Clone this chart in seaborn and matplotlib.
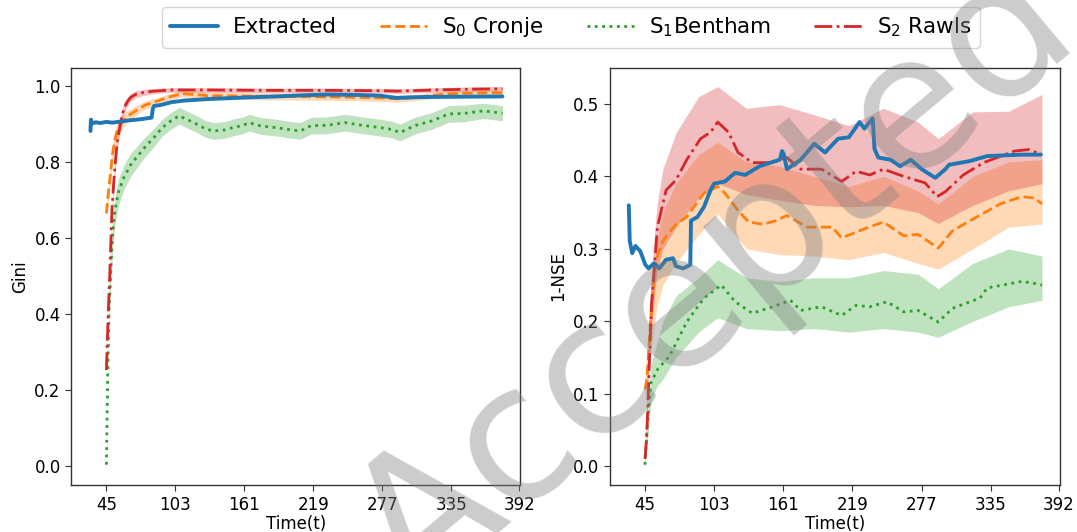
import numpy as np
import pandas as pd
import matplotlib
matplotlib.use("Agg")
import matplotlib.pyplot as plt
import seaborn as sns

# ---------------- data ----------------
xticks = [45, 103, 161, 219, 277, 335, 392]

# Left panel: Gini
ext_g_t = [31.6, 32.0, 33.0, 36, 40, 45, 50, 57, 64, 71, 76, 80, 83, 84, 85, 90, 100, 110, 130, 160, 188, 210, 231, 255, 275, 289, 304, 330, 378]
ext_g_v = [0.882, 0.912, 0.902, 0.905, 0.903, 0.906, 0.904, 0.907, 0.910, 0.912, 0.914, 0.916, 0.917, 0.940, 0.948, 0.950, 0.958, 0.962, 0.966, 0.970, 0.973, 0.976, 0.978, 0.977, 0.975, 0.969, 0.971, 0.972, 0.973]

s0_g_t = [45, 46, 48, 50, 52.5, 55, 57, 61, 65.6, 71, 77, 83, 89, 96, 103, 109, 120, 130, 160, 188, 220, 250, 275, 289, 305, 320, 333, 355, 378]
s0_g_v = [0.665, 0.70, 0.758, 0.82, 0.865, 0.89, 0.90, 0.916, 0.927, 0.938, 0.949, 0.956, 0.962, 0.970, 0.976, 0.980, 0.978, 0.975, 0.974, 0.973, 0.972, 0.971, 0.969, 0.967, 0.970, 0.976, 0.980, 0.982, 0.983]
s0_g_lo = [0.645, 0.68, 0.735, 0.795, 0.84, 0.87, 0.882, 0.90, 0.913, 0.926, 0.938, 0.946, 0.953, 0.962, 0.968, 0.972, 0.969, 0.966, 0.965, 0.964, 0.963, 0.962, 0.960, 0.958, 0.962, 0.968, 0.972, 0.975, 0.976]
s0_g_hi = [0.685, 0.72, 0.78, 0.845, 0.89, 0.91, 0.918, 0.932, 0.941, 0.950, 0.960, 0.966, 0.971, 0.978, 0.984, 0.988, 0.987, 0.984, 0.983, 0.982, 0.981, 0.980, 0.978, 0.976, 0.978, 0.984, 0.988, 0.989, 0.990]

s1_g_t = [45, 45.9, 47.1, 48.8, 50, 52, 55, 60, 65.6, 71, 77, 85, 92, 99, 106, 113, 121, 128, 135, 145, 152, 159, 165, 175, 188, 198, 208, 217, 230, 246, 260, 275, 285, 292, 304, 318, 333, 345, 362, 378]
s1_g_v = [0.004, 0.2, 0.4, 0.52, 0.60, 0.67, 0.72, 0.762, 0.794, 0.815, 0.838, 0.865, 0.891, 0.908, 0.922, 0.912, 0.900, 0.888, 0.882, 0.885, 0.892, 0.896, 0.904, 0.895, 0.891, 0.886, 0.882, 0.896, 0.897, 0.904, 0.897, 0.891, 0.886, 0.878, 0.896, 0.908, 0.927, 0.928, 0.935, 0.929]
s1_g_hw = [0.004, 0.01, 0.02, 0.03, 0.035, 0.035, 0.035, 0.032, 0.03, 0.028, 0.026, 0.024, 0.022, 0.022, 0.022, 0.022, 0.022, 0.022, 0.022, 0.022, 0.022, 0.022, 0.022, 0.022, 0.022, 0.022, 0.022, 0.022, 0.022, 0.022, 0.022, 0.022, 0.022, 0.022, 0.022, 0.022, 0.022, 0.022, 0.020, 0.020]

s2_g_t = [45, 46.5, 47.9, 49.6, 51, 52.5, 54, 55.5, 58, 60, 63, 65.6, 70, 77, 85, 100, 130, 180, 230, 275, 290, 320, 350, 378]
s2_g_v = [0.253, 0.40, 0.51, 0.67, 0.74, 0.80, 0.85, 0.88, 0.92, 0.944, 0.961, 0.971, 0.979, 0.984, 0.987, 0.990, 0.990, 0.989, 0.989, 0.988, 0.987, 0.990, 0.992, 0.993]
s2_g_hw = [0.005, 0.01, 0.015, 0.02, 0.022, 0.022, 0.02, 0.02, 0.018, 0.015, 0.012, 0.01, 0.009, 0.008, 0.007, 0.006, 0.006, 0.006, 0.006, 0.006, 0.006, 0.006, 0.006, 0.006]

# Right panel: 1-NSE
ext_n_t = [31.4, 32.2, 34.3, 37, 41, 45.3, 48, 52.5, 57, 62.7, 68.5, 71, 77, 83, 83.6, 89, 94.5, 100, 103, 112, 120.6, 129, 141, 158, 160, 161.5, 164, 175.6, 187, 196, 207, 216, 225, 229, 236, 237.5, 240.7, 251, 259, 268, 277, 288.5, 297, 300, 317, 332, 361, 377]
ext_n_v = [0.36, 0.311, 0.294, 0.304, 0.297, 0.278, 0.273, 0.28, 0.273, 0.285, 0.287, 0.276, 0.273, 0.278, 0.339, 0.344, 0.358, 0.381, 0.39, 0.393, 0.405, 0.402, 0.414, 0.423, 0.435, 0.43, 0.41, 0.423, 0.445, 0.433, 0.452, 0.454, 0.475, 0.466, 0.48, 0.438, 0.426, 0.423, 0.414, 0.423, 0.41, 0.398, 0.41, 0.416, 0.421, 0.428, 0.43, 0.43]

s0_n_t = [45, 46.6, 49.6, 52.7, 54, 60, 71, 80, 94.5, 106, 112, 123, 132, 144, 155, 164, 181, 202, 210, 228, 245, 262, 274, 291, 303, 320, 343, 361, 372, 378]
s0_n_v = [0.106, 0.12, 0.2, 0.26, 0.283, 0.311, 0.334, 0.344, 0.377, 0.386, 0.377, 0.353, 0.337, 0.334, 0.339, 0.346, 0.33, 0.33, 0.315, 0.327, 0.337, 0.318, 0.32, 0.301, 0.325, 0.341, 0.362, 0.372, 0.37, 0.362]
band_t = [45, 50, 55, 60, 71, 90, 106, 130, 158, 187, 216, 245, 274, 291, 320, 350, 378]
s0_n_hi = [0.12, 0.24, 0.31, 0.35, 0.39, 0.43, 0.447, 0.42, 0.414, 0.40, 0.386, 0.40, 0.38, 0.362, 0.40, 0.42, 0.423]
s0_n_lo = [0.09, 0.16, 0.22, 0.25, 0.28, 0.32, 0.348, 0.30, 0.292, 0.29, 0.285, 0.295, 0.28, 0.272, 0.30, 0.33, 0.334]

s1_n_t = [45, 47, 49.9, 55.7, 65.6, 80, 94.5, 109, 120.6, 135, 152, 167, 175.6, 193, 210, 222, 233.5, 248, 262, 274, 291, 303, 326, 332, 361, 373, 378]
s1_n_v = [0.002, 0.059, 0.115, 0.134, 0.152, 0.199, 0.232, 0.25, 0.227, 0.211, 0.22, 0.229, 0.215, 0.22, 0.208, 0.222, 0.22, 0.227, 0.213, 0.215, 0.199, 0.218, 0.232, 0.246, 0.255, 0.252, 0.25]
s1_n_hi = [0.01, 0.14, 0.17, 0.20, 0.235, 0.26, 0.285, 0.26, 0.255, 0.26, 0.26, 0.27, 0.265, 0.245, 0.28, 0.30, 0.29]
s1_n_lo = [0.0, 0.09, 0.11, 0.12, 0.15, 0.185, 0.205, 0.19, 0.187, 0.19, 0.185, 0.19, 0.185, 0.178, 0.20, 0.22, 0.229]

s2_n_t = [45, 46.4, 48.4, 50.4, 52.7, 55.4, 62.7, 71, 80, 91.6, 100, 106, 115, 123, 135, 152, 164, 175.6, 193, 210, 222, 233.5, 245, 262, 280, 290, 297, 312, 329, 355, 367, 378]
s2_n_v = [0.01, 0.04, 0.129, 0.222, 0.27, 0.33, 0.381, 0.395, 0.423, 0.452, 0.461, 0.475, 0.461, 0.433, 0.419, 0.419, 0.426, 0.41, 0.41, 0.393, 0.407, 0.402, 0.41, 0.40, 0.391, 0.372, 0.379, 0.402, 0.419, 0.435, 0.437, 0.43]
s2_n_hi = [0.02, 0.26, 0.36, 0.41, 0.46, 0.51, 0.524, 0.494, 0.499, 0.485, 0.47, 0.494, 0.475, 0.452, 0.489, 0.49, 0.513]
s2_n_lo = [0.0, 0.18, 0.27, 0.30, 0.33, 0.37, 0.39, 0.375, 0.367, 0.36, 0.358, 0.36, 0.35, 0.335, 0.36, 0.38, 0.39]

labels = ["Extracted", r"S$_0$ Cronje", r"S$_1$Bentham", r"S$_2$ Rawls"]
colors = ["#1f77b4", "#ff7f0e", "#2ca02c", "#d62728"]
styles = ["-", "--", ":", "-."]

# ---------------- plotting ----------------
sns.set_style("ticks")
plt.rcParams["font.family"] = ["DejaVu Sans"]
plt.rcParams["axes.edgecolor"] = "#333333"
plt.rcParams["text.color"] = "black"
plt.rcParams["axes.labelcolor"] = "black"
plt.rcParams["xtick.color"] = "black"
plt.rcParams["ytick.color"] = "black"

fig = plt.figure(figsize=(10.77, 5.32), dpi=100)
ax1 = fig.add_axes([0.066, 0.088, 0.417, 0.785])
ax2 = fig.add_axes([0.566, 0.088, 0.418, 0.785])


def draw(ax, t, v, idx, lw, z, legend=True):
    df = pd.DataFrame({"t": t, "v": v})
    sns.lineplot(data=df, x="t", y="v", ax=ax, color=colors[idx], lw=lw,
                 label=labels[idx] if legend else None, zorder=z, sort=False,
                 estimator=None)
    ax.lines[-1].set_linestyle(styles[idx])


# Left panel
draw(ax1, ext_g_t, ext_g_v, 0, 2.8, 5)
ax1.fill_between(s0_g_t, s0_g_lo, s0_g_hi, color=colors[1], alpha=0.3, lw=0, zorder=2)
draw(ax1, s0_g_t, s0_g_v, 1, 2.0, 3)
ax1.fill_between(s1_g_t, np.array(s1_g_v) - np.array(s1_g_hw), np.array(s1_g_v) + np.array(s1_g_hw),
                 color=colors[2], alpha=0.3, lw=0, zorder=2)
draw(ax1, s1_g_t, s1_g_v, 2, 2.0, 3)
ax1.fill_between(s2_g_t, np.array(s2_g_v) - np.array(s2_g_hw), np.array(s2_g_v) + np.array(s2_g_hw),
                 color=colors[3], alpha=0.3, lw=0, zorder=2)
draw(ax1, s2_g_t, s2_g_v, 3, 2.0, 3)

# Right panel
draw(ax2, ext_n_t, ext_n_v, 0, 2.8, 5, legend=False)
ax2.fill_between(band_t, s0_n_lo, s0_n_hi, color=colors[1], alpha=0.3, lw=0, zorder=2)
draw(ax2, s0_n_t, s0_n_v, 1, 2.0, 3, legend=False)
ax2.fill_between(band_t, s1_n_lo, s1_n_hi, color=colors[2], alpha=0.3, lw=0, zorder=2)
draw(ax2, s1_n_t, s1_n_v, 2, 2.0, 3, legend=False)
ax2.fill_between(band_t, s2_n_lo, s2_n_hi, color=colors[3], alpha=0.3, lw=0, zorder=2)
draw(ax2, s2_n_t, s2_n_v, 3, 2.0, 3, legend=False)

for ax, ylab in [(ax1, "Gini"), (ax2, "1-NSE")]:
    ax.set_xlim(15.3, 392.9)
    ax.set_xticks(xticks)
    ax.set_xticklabels([str(x) for x in xticks])
    ax.set_xlabel("Time(t)", fontsize=12, labelpad=1)
    ax.set_ylabel(ylab, fontsize=12)
    ax.tick_params(labelsize=12, length=4, color="#333333", labelcolor="black")
    for s in ax.spines.values():
        s.set_visible(True)
        s.set_linewidth(1.0)

ax1.set_yticks([0.0, 0.2, 0.4, 0.6, 0.8, 1.0])
ax2.set_yticks([0.0, 0.1, 0.2, 0.3, 0.4, 0.5])

handles, labs = ax1.get_legend_handles_labels()
ax1.get_legend().remove()
fig.legend(handles, labs, loc="center", bbox_to_anchor=(0.530, 0.949), ncol=4,
           fontsize=15.5, frameon=True, handlelength=2.2, columnspacing=2.0,
           handletextpad=0.7, borderpad=0.4, fancybox=True, edgecolor="#cccccc")

# Watermark
fig.text(0.665, 0.47, "Accepted", fontsize=135, color="gray", alpha=0.4,
         rotation=40, ha="center", va="center", zorder=20)

fig.savefig("out.png", dpi=100)
